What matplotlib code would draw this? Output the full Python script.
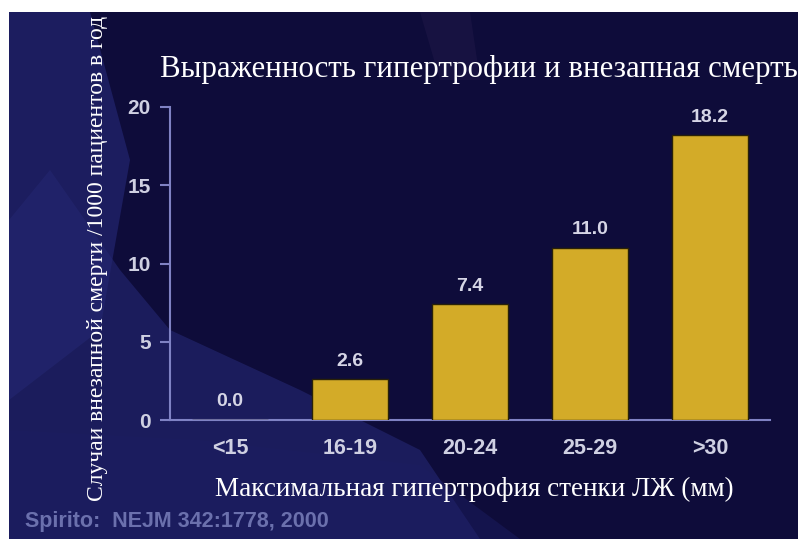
import matplotlib
matplotlib.use("Agg")
import matplotlib.pyplot as plt
from matplotlib.patches import Polygon, Rectangle

categories = ['<15', '16-19', '20-24', '25-29', '>30']
values = [0.0, 2.6, 7.4, 11.0, 18.2]
value_labels = ['0.0', '2.6', '7.4', '11.0', '18.2']
yticks = [0, 5, 10, 15, 20]

title = 'Выраженность гипертрофии и внезапная смерть'
ylabel = 'Случаи внезапной смерти /1000 пациентов в год'
xlabel = 'Максимальная гипертрофия стенки ЛЖ (мм)'
source = 'Spirito:  NEJM 342:1778, 2000'

W, H = 798, 539
fig = plt.figure(figsize=(W / 100, H / 100), dpi=100)
fig.patch.set_facecolor('#0e0c3a')


def fp(pts):
    return [(x / W, 1 - y / H) for x, y in pts]


def add_poly(pts, color, alpha=1.0, z=-5):
    p = Polygon(fp(pts), closed=True, transform=fig.transFigure,
                facecolor=color, edgecolor='none', alpha=alpha, zorder=z)
    fig.patches.append(p)


# decorative slide background
add_poly([(9, 12), (90, 12), (130, 160), (100, 330), (9, 400)], '#22256f', 0.7)
add_poly([(9, 220), (50, 170), (120, 270), (170, 330), (300, 390),
          (420, 450), (480, 539), (9, 539)], '#23266f', 0.65)
add_poly([(9, 430), (200, 440), (420, 465), (520, 539), (9, 539)], '#1b1c60', 0.5)
add_poly([(420, 12), (470, 12), (480, 80), (440, 80)], '#2a1e50', 0.35)
# white margins of the screenshot
fig.patches.append(Rectangle((0, 1 - 12 / H), 1, 12 / H, transform=fig.transFigure,
                             facecolor='white', edgecolor='none', zorder=10))
fig.patches.append(Rectangle((0, 0), 9 / W, 1, transform=fig.transFigure,
                             facecolor='white', edgecolor='none', zorder=10))

ax = fig.add_axes([170 / W, 1 - 420 / H, 600 / W, 313 / H])
ax.set_zorder(5)
ax.set_facecolor('none')

x = list(range(len(categories)))
bars = ax.bar(x, values, width=0.64, color='#d3ab28', edgecolor='#2a2206',
              linewidth=1.0, zorder=3)
for xi, v, lab in zip(x, values, value_labels):
    ax.annotate(lab, (xi, v), xytext=(0, 13), textcoords='offset points',
                ha='center', va='center', color='#d6d6e6', fontsize=14,
                fontweight='bold', family='Liberation Sans')

ax.set_xlim(-0.5, 4.5)
ax.set_ylim(0, 20)
ax.set_yticks(yticks)
ax.set_yticklabels([str(t) for t in yticks])
ax.set_xticks(x)
ax.set_xticklabels(categories)

for s in ['top', 'right']:
    ax.spines[s].set_visible(False)
for s in ['left', 'bottom']:
    ax.spines[s].set_color('#7f82c4')
    ax.spines[s].set_linewidth(1.5)

ax.tick_params(axis='y', length=7, width=1.5, color='#7f82c4', pad=7,
               labelcolor='#cfd0e2', labelsize=15)
ax.tick_params(axis='x', length=0, pad=13, labelcolor='#cfd0e2', labelsize=15.5)
for lab in ax.get_xticklabels() + ax.get_yticklabels():
    lab.set_fontweight('bold')
    lab.set_family('Liberation Sans')

fig.text(479 / W, 1 - 70 / H, title, ha='center', va='center', color='white',
         fontsize=22.2, family='Liberation Serif', zorder=6)
fig.text(98 / W, 1 - 258 / H, ylabel, ha='center', va='center', color='white',
         rotation=90, fontsize=17, family='Liberation Serif', zorder=6)
fig.text(474 / W, 1 - 489 / H, xlabel, ha='center', va='center', color='white',
         fontsize=19.5, family='Liberation Serif', zorder=6)
fig.text(25 / W, 1 - 521 / H, source, ha='left', va='center', color='#6b70ad',
         fontsize=15.5, fontweight='bold', family='Liberation Sans', zorder=6)

fig.savefig('out.png', dpi=100, facecolor=fig.get_facecolor())
